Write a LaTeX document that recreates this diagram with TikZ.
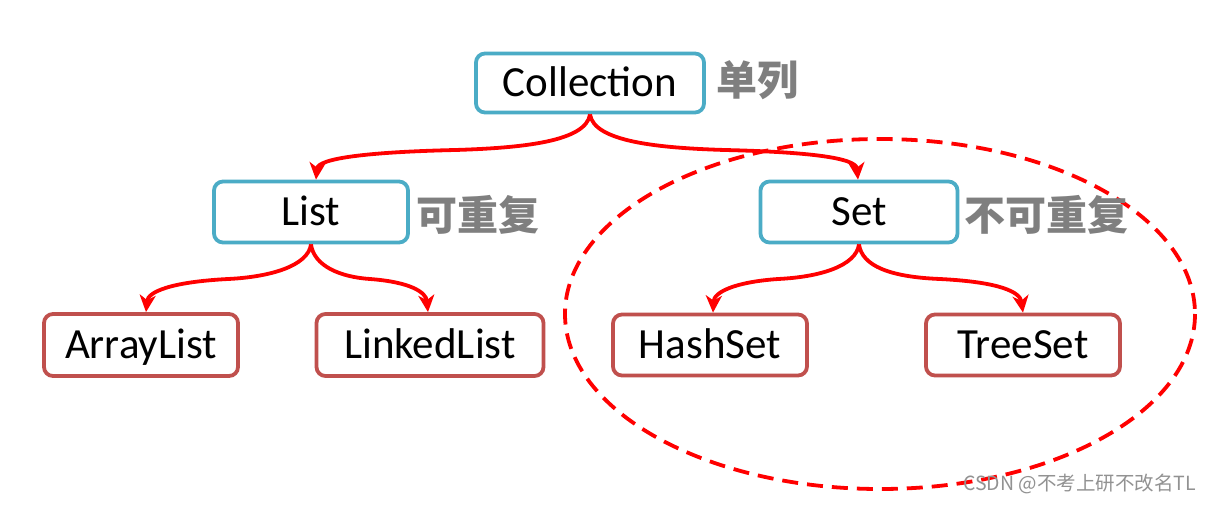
\documentclass[tikz,border=0pt]{standalone}
\usepackage{fontspec}
\setmainfont{Carlito}
\newfontfamily\cjk{Noto Sans CJK SC}
\usetikzlibrary{arrows.meta}
\definecolor{boxblue}{HTML}{4BACC6}
\definecolor{boxred}{HTML}{C0504D}
\definecolor{lblgray}{HTML}{7F7F7F}
\definecolor{arrred}{HTML}{FF0000}
\begin{document}
\begin{tikzpicture}[x=1pt,y=-1pt,
  boxbase/.style={line width=3.8pt, rounded corners=9pt, fill=white,
    inner sep=0pt, text height=28pt, text depth=1pt, font=\fontsize{43}{50}\selectfont},
  bluebox/.style={boxbase, draw=boxblue},
  redbox/.style={boxbase, draw=boxred},
  cnlabel/.style={text=lblgray, inner sep=0pt, anchor=west, font=\cjk\bfseries\fontsize{41}{48}\selectfont},
  conn/.style={draw=arrred, line width=3.8pt, -{Stealth[length=17pt,width=16pt,inset=5pt]}},
  groupline/.style={draw=arrred, line width=3.8pt, dash pattern=on 16pt off 9pt}
]
\useasboundingbox (0,0) rectangle (1208,504);
\fill[white] (0,0) rectangle (1208,504);

% dashed ellipse grouping the Set branch
\draw[groupline] (880,314) ellipse [x radius=315, y radius=175];

% nodes
\node[bluebox, minimum width=228pt, minimum height=59pt] (coll) at (590,83) {Collection};
\node[bluebox, minimum width=194pt, minimum height=61pt] (list) at (311,212) {List};
\node[bluebox, minimum width=197pt, minimum height=61pt] (set) at (859,212) {Set};
\node[redbox, minimum width=194pt, minimum height=62pt] (al) at (141,345) {ArrayList};
\node[redbox, minimum width=227pt, minimum height=62pt] (ll) at (430,345) {LinkedList};
\node[redbox, minimum width=194pt, minimum height=61pt] (hs) at (710,345) {HashSet};
\node[redbox, minimum width=194pt, minimum height=61pt] (ts) at (1023,345) {TreeSet};

% labels
\node[cnlabel] (l1) at (716,80) {单列};
\node[cnlabel] (l2) at (416,215) {可重复};
\node[cnlabel] (l3) at (964,215) {不可重复};

% connectors
\coordinate (cm1) at (455,150);
\coordinate (cm2) at (725,150);
\path[conn] (coll.south) .. controls (586,142) and (520,148) .. (cm1)
  .. controls (370,152) and (318,158) .. (list.north -| 316,0);
\path[conn] (coll.south) .. controls (594,142) and (660,148) .. (cm2)
  .. controls (810,152) and (856,158) .. (set.north -| 858,0);

\coordinate (lm1) at (228,279);
\coordinate (lm2) at (370,279);
\path[conn] (list.south) .. controls (308,266) and (270,277) .. (lm1)
  .. controls (170,282) and (148,292) .. (al.north -| 146,0);
\path[conn] (list.south) .. controls (314,266) and (340,277) .. (lm2)
  .. controls (410,282) and (426,292) .. (ll.north -| 428,0);

\coordinate (sm1) at (778,279);
\coordinate (sm2) at (940,279);
\path[conn] (set.south) .. controls (856,266) and (820,277) .. (sm1)
  .. controls (735,282) and (714,292) .. (hs.north -| 713,0);
\path[conn] (set.south) .. controls (862,266) and (890,277) .. (sm2)
  .. controls (1000,282) and (1020,292) .. (ts.north -| 1023,0);

% watermark
\node[anchor=east, inner sep=0pt, text=lblgray!85, font=\cjk\fontsize{19.5}{22}\selectfont] (wm) at (1196,484) {CSDN @不考上研不改名TL};
\end{tikzpicture}
\end{document}
